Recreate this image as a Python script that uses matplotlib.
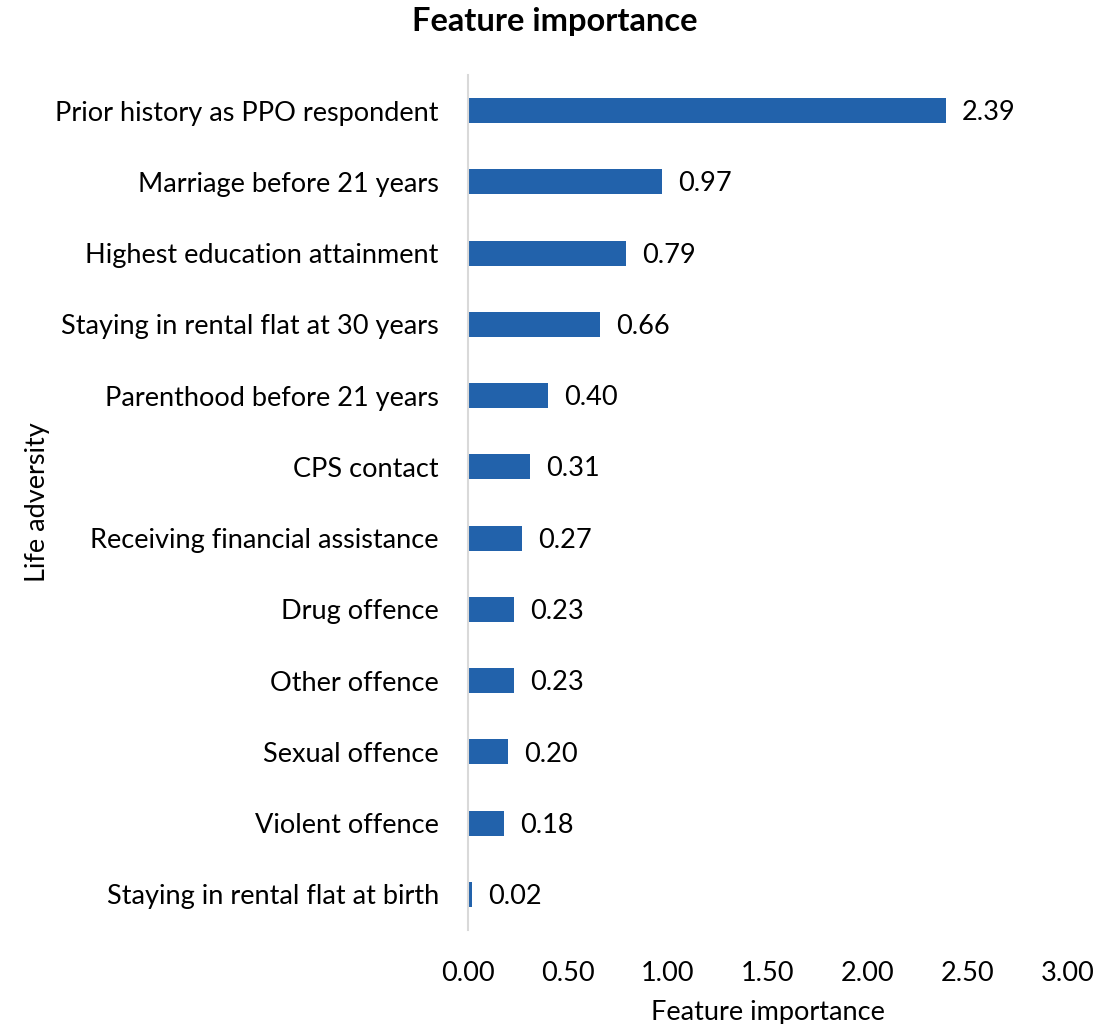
import matplotlib
matplotlib.use("Agg")
import matplotlib.pyplot as plt

# Datos (de arriba hacia abajo)
features = [
    "Prior history as PPO respondent",
    "Marriage before 21 years",
    "Highest education attainment",
    "Staying in rental flat at 30 years",
    "Parenthood before 21 years",
    "CPS contact",
    "Receiving financial assistance",
    "Drug offence",
    "Other offence",
    "Sexual offence",
    "Violent offence",
    "Staying in rental flat at birth",
]
importance = [2.39, 0.97, 0.79, 0.66, 0.40, 0.31, 0.27, 0.23, 0.23, 0.20, 0.18, 0.02]
xticks = [0.0, 0.5, 1.0, 1.5, 2.0, 2.5, 3.0]

plt.rcParams["font.family"] = ["Lato", "DejaVu Sans"]
BAR_COLOR = "#2262AB"
FS = 19.5

fig = plt.figure(figsize=(11.17, 10.24), dpi=100)
ax = fig.add_axes([0.419, 0.0918, 0.537, 0.835])

ypos = list(range(len(features)))
ax.barh(ypos, importance, height=0.35, color=BAR_COLOR)
for y, v in zip(ypos, importance):
    ax.text(v + 0.08, y + 0.03, f"{v:.2f}", va="center", ha="left", fontsize=FS)

ax.set_ylim(len(features) - 0.5, -0.5)
ax.set_xlim(0, 3.0)
ax.set_yticks(ypos)
ax.set_yticklabels(features, fontsize=FS)
ax.set_xticks(xticks)
ax.set_xticklabels([f"{t:.2f}" for t in xticks], fontsize=FS)
ax.tick_params(axis="both", length=0)
ax.tick_params(axis="y", pad=21)
ax.tick_params(axis="x", pad=22)

for side in ["top", "right", "bottom"]:
    ax.spines[side].set_visible(False)
ax.spines["left"].set_color("#D9D9D9")
ax.spines["left"].set_linewidth(1.5)

ax.set_xlabel("Feature importance", fontsize=FS)
ax.xaxis.set_label_coords(0.5, -0.082)
ax.set_ylabel("Life adversity", fontsize=FS)
ax.yaxis.set_label_coords(-0.697, 0.5)

fig.text(0.497, 0.979, "Feature importance", ha="center", va="center",
         fontsize=23.5, fontweight="bold")

fig.savefig("out.png", dpi=100)
